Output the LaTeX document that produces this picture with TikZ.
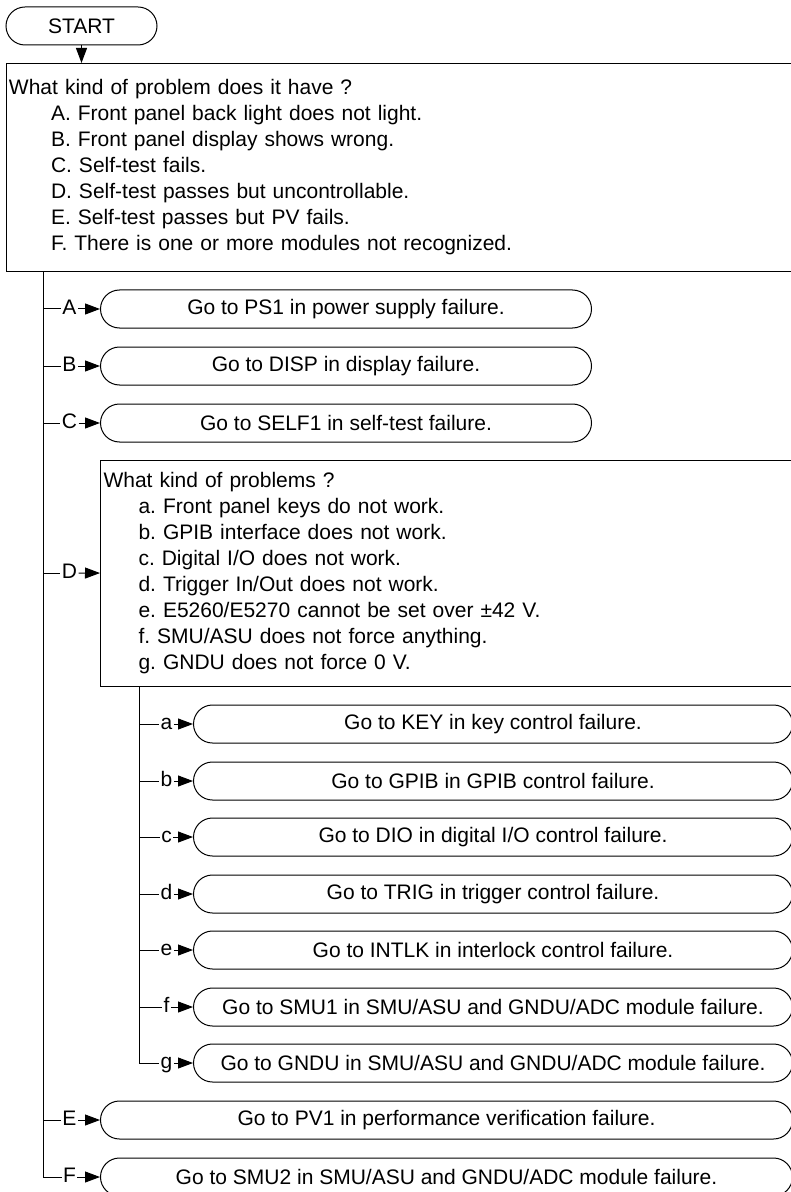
\documentclass[tikz,border=0pt]{standalone}
\usepackage{fontspec}
\setmainfont{Liberation Sans}
\usetikzlibrary{arrows.meta,positioning}

\begin{document}
\begin{tikzpicture}[
    x=0.5pt, y=-0.5pt, line width=0.5pt,
    every node/.style={font=\fontsize{10.5}{13}\selectfont\frenchspacing},
    term/.style={rectangle, draw, rounded corners=9.5pt, minimum height=19pt,
                 inner sep=0pt},
    gobox/.style={term, anchor=west, minimum width=245.5pt},
    subbox/.style={term, anchor=west, minimum width=299.5pt},
    longbox/.style={term, anchor=west, minimum width=346pt},
    question/.style={rectangle, draw, anchor=north west, align=left,
                     inner xsep=1.5pt, inner ysep=0pt},
    tag/.style={inner sep=0.5pt, text height=7.6pt, text depth=2.2pt},
    arrow/.style={-{Triangle[length=7.5pt,width=5.5pt]}},
]

% Frame
\path[use as bounding box] (0,0) rectangle (791,1192);
\clip (0,0) rectangle (791,1192);

% Start
\node[term, minimum width=75.5pt] (start) at (81.5,26) {START};

% Main question
\node[question, text width=394pt, minimum height=104pt] (prob) at (5.5,63)
    {What kind of problem does it have ?\\
     \hspace*{21pt}A. Front panel back light does not light.\\
     \hspace*{21pt}B. Front panel display shows wrong.\\
     \hspace*{21pt}C. Self-test fails.\\
     \hspace*{21pt}D. Self-test passes but uncontrollable.\\
     \hspace*{21pt}E. Self-test passes but PV fails.\\
     \hspace*{21pt}F. There is one or more modules not recognized.};
\draw[arrow] (start) -- (start |- prob.north);

% Answers A-C
\node[tag] (lA) at (69.5,309) {A};
\node[gobox] (goA) at (100,309) {Go to PS1 in power supply failure.};
\node[tag] (lB) at (69.5,366) {B};
\node[gobox] (goB) at (100,366) {Go to DISP in display failure.};
\node[tag] (lC) at (69.5,423) {C};
\node[gobox] (goC) at (100,423) {Go to SELF1 in self-test failure.};

% Answer D
\node[question, text width=347pt, minimum height=113pt] (probD) at (100,460)
    {What kind of problems ?\\
     \hspace*{17.5pt}a. Front panel keys do not work.\\
     \hspace*{17.5pt}b. GPIB interface does not work.\\
     \hspace*{17.5pt}c. Digital I/O does not work.\\
     \hspace*{17.5pt}d. Trigger In/Out does not work.\\
     \hspace*{17.5pt}e. E5260/E5270 cannot be set over ±42 V.\\
     \hspace*{17.5pt}f. SMU/ASU does not force anything.\\
     \hspace*{17.5pt}g. GNDU does not force 0 V.};
\node[tag] (lD) at (69.5,573) {D};

% Sub answers a-g
\node[tag] (la) at (166.5,724) {a};
\node[subbox] (goa) at (193,724) {Go to KEY in key control failure.};
\node[tag] (lb) at (166.5,781) {b};
\node[subbox] (gob) at (193,781) {Go to GPIB in GPIB control failure.};
\node[tag] (lc) at (166.5,837) {c};
\node[subbox] (goc) at (193,837) {Go to DIO in digital I/O control failure.};
\node[tag] (ld) at (166.5,894) {d};
\node[subbox] (god) at (193,894) {Go to TRIG in trigger control failure.};
\node[tag] (le) at (166.5,950) {e};
\node[subbox] (goe) at (193,950) {Go to INTLK in interlock control failure.};
\node[tag] (lf) at (166.5,1007) {f};
\node[subbox] (gof) at (193,1007)
    {Go to SMU1 in SMU/ASU and GNDU/ADC module failure.};
\node[tag] (lg) at (166.5,1063) {g};
\node[subbox] (gog) at (193,1063)
    {Go to GNDU in SMU/ASU and GNDU/ADC module failure.};

% Answers E-F
\node[tag] (lE) at (69.5,1120) {E};
\node[longbox] (goE) at (100,1120) {Go to PV1 in performance verification failure.};
\node[tag] (lF) at (69.5,1177) {F};
\node[longbox] (goF) at (100,1177)
    {Go to SMU2 in SMU/ASU and GNDU/ADC module failure.};

% Main branch lines
\coordinate (trunk) at ([xshift=18.75pt]prob.south west);
\draw (trunk) |- (lF.west);
\draw (trunk |- lA) -- (lA.west);
\draw (trunk |- lB) -- (lB.west);
\draw (trunk |- lC) -- (lC.west);
\draw (trunk |- lD) -- (lD.west);
\draw (trunk |- lE) -- (lE.west);
\draw[arrow] (lA) -- (goA);
\draw[arrow] (lB) -- (goB);
\draw[arrow] (lC) -- (goC);
\draw[arrow] (lD) -- (probD);
\draw[arrow] (lE) -- (goE);
\draw[arrow] (lF) -- (goF);

% Sub branch lines
\coordinate (subtrunk) at ([xshift=19.5pt]probD.south west);
\draw (subtrunk) |- (lg.west);
\draw (subtrunk |- la) -- (la.west);
\draw (subtrunk |- lb) -- (lb.west);
\draw (subtrunk |- lc) -- (lc.west);
\draw (subtrunk |- ld) -- (ld.west);
\draw (subtrunk |- le) -- (le.west);
\draw (subtrunk |- lf) -- (lf.west);
\draw[arrow] (la) -- (goa);
\draw[arrow] (lb) -- (gob);
\draw[arrow] (lc) -- (goc);
\draw[arrow] (ld) -- (god);
\draw[arrow] (le) -- (goe);
\draw[arrow] (lf) -- (gof);
\draw[arrow] (lg) -- (gog);

\end{tikzpicture}
\end{document}
